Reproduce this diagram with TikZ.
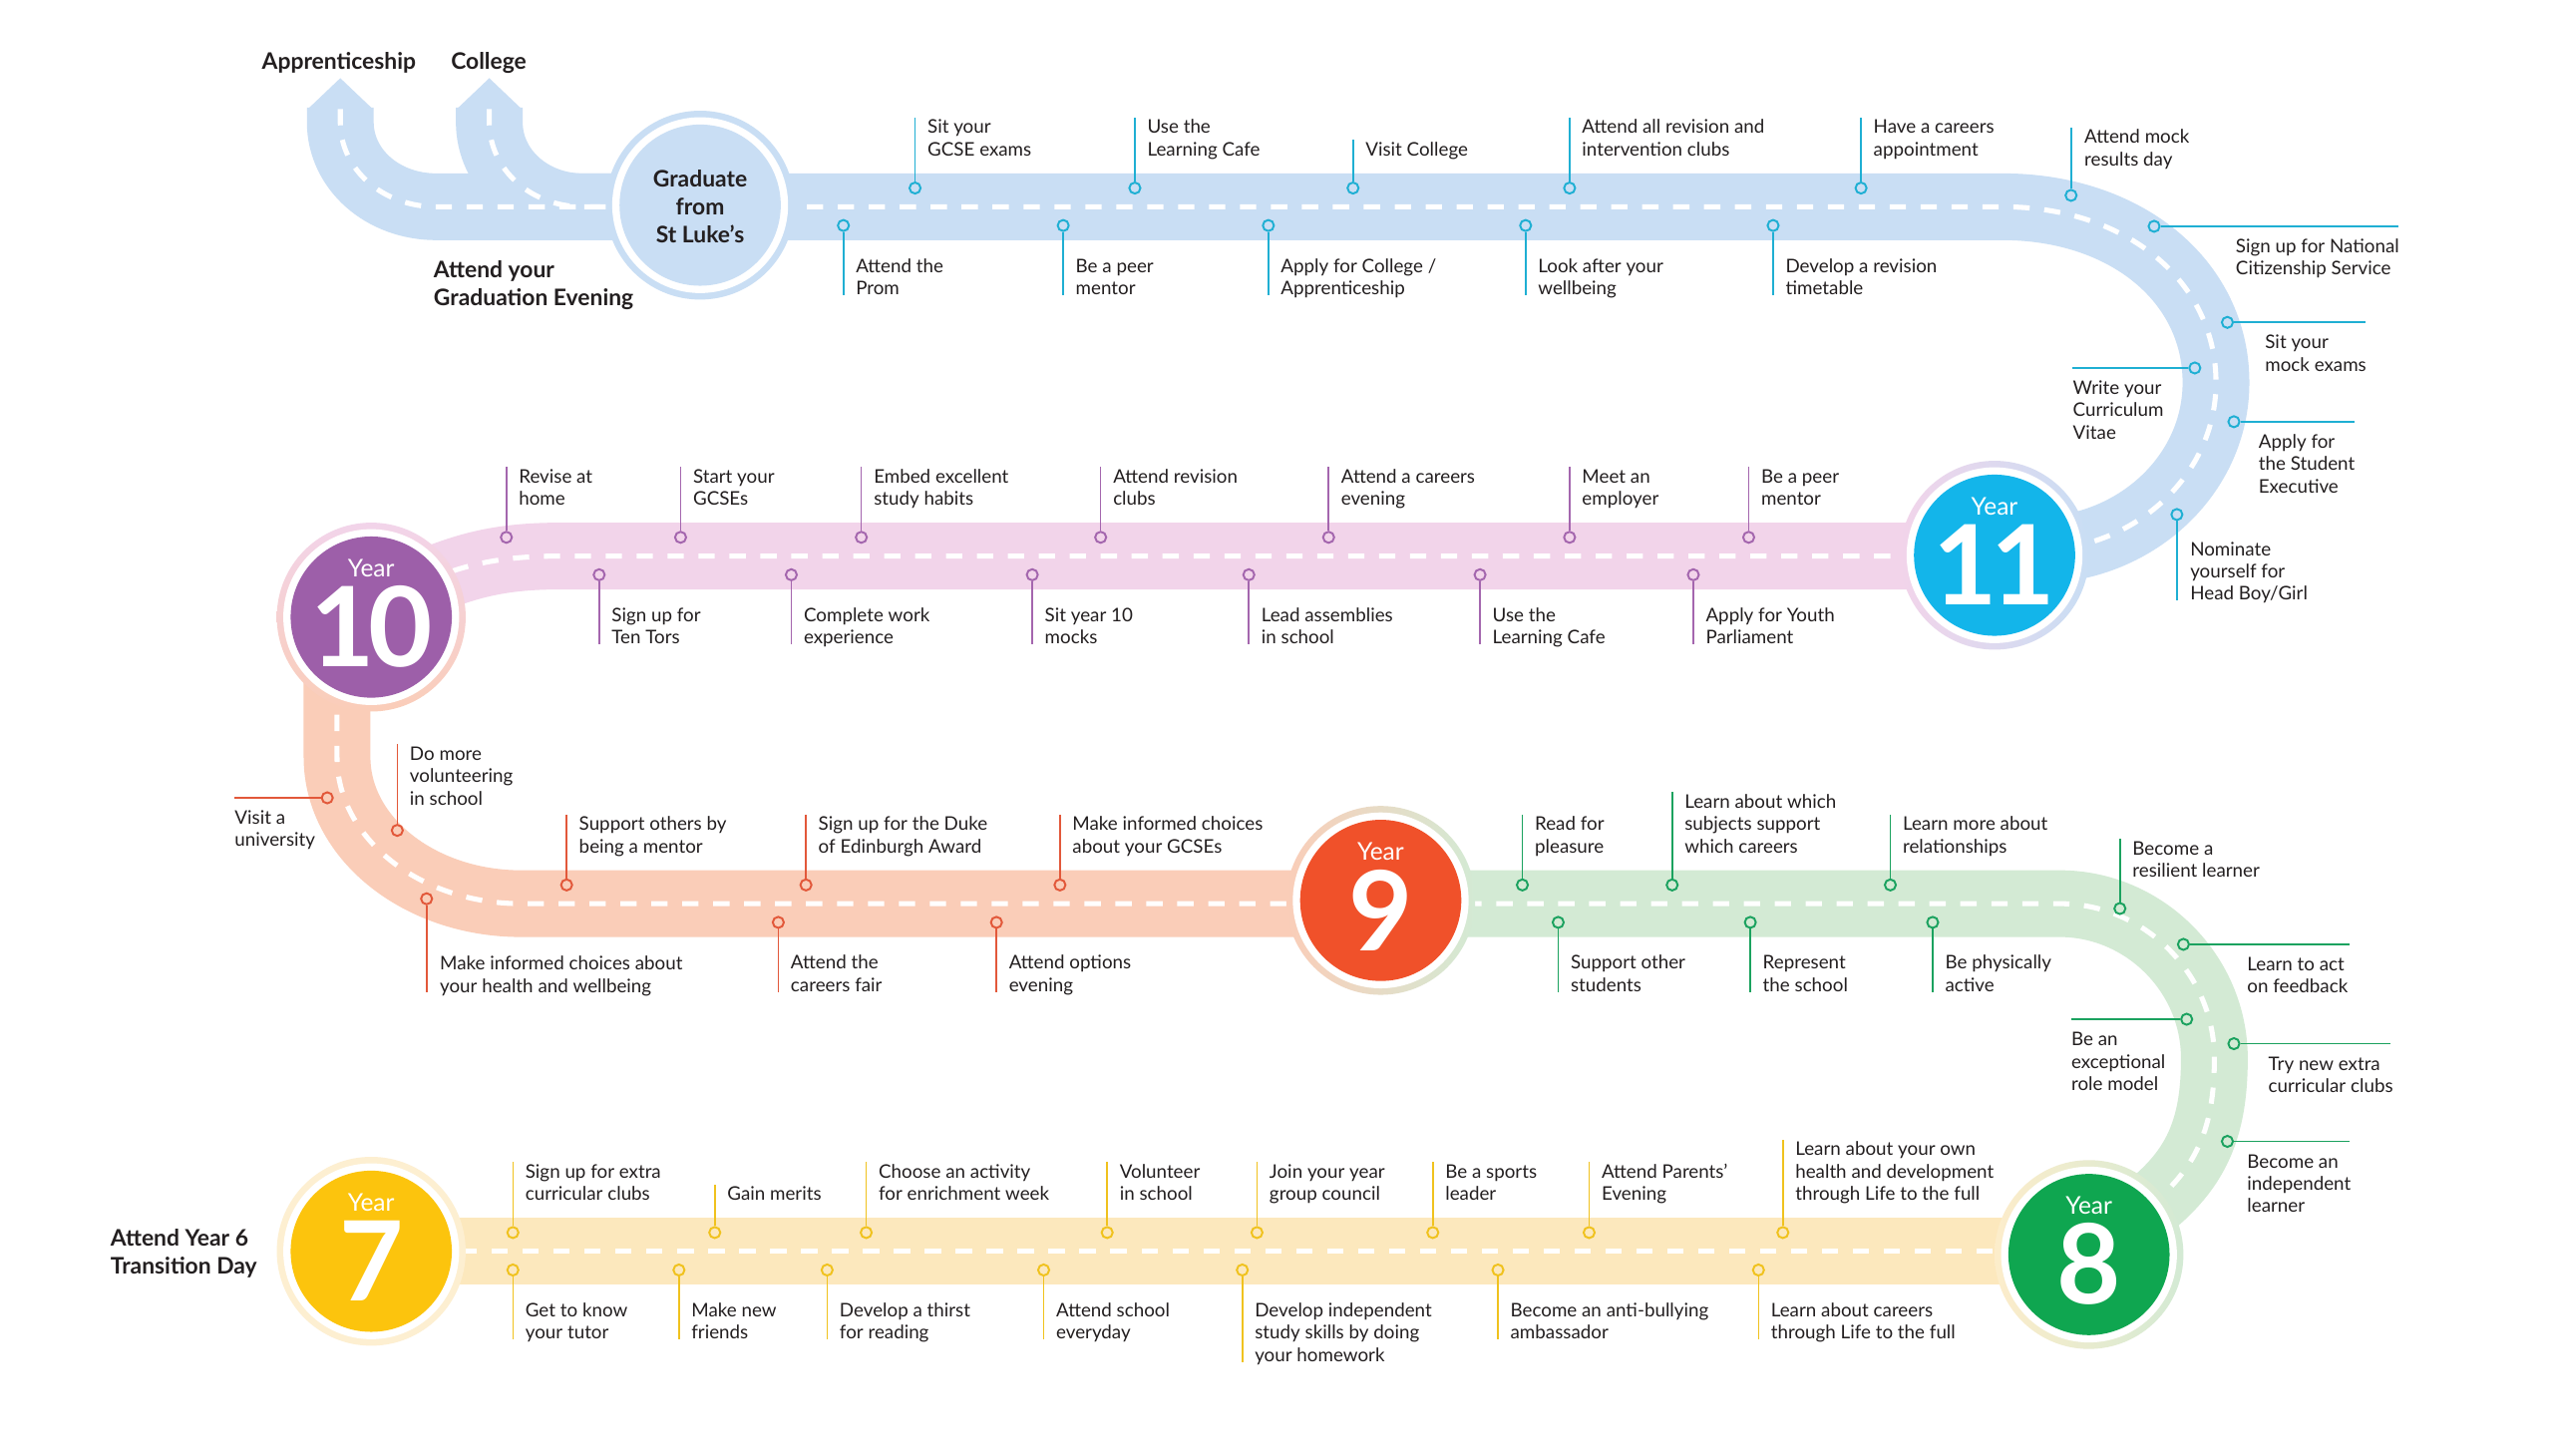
\documentclass[tikz,border=0pt]{standalone}
\usepackage{fontspec}
\setmainfont{Lato}
\definecolor{txt}{HTML}{231F20}
\definecolor{blR}{HTML}{C9DEF4}
\definecolor{blL}{HTML}{1FAFD3}
\definecolor{blC}{HTML}{13B5EA}
\definecolor{puR}{HTML}{F2D4EA}
\definecolor{puL}{HTML}{A466AE}
\definecolor{puC}{HTML}{9D5FA9}
\definecolor{peR}{HTML}{FACDB8}
\definecolor{peL}{HTML}{E2583A}
\definecolor{peC}{HTML}{F0512A}
\definecolor{grR}{HTML}{D3EAD4}
\definecolor{grL}{HTML}{1BA25F}
\definecolor{grC}{HTML}{0FA650}
\definecolor{yeR}{HTML}{FCE8BD}
\definecolor{yeL}{HTML}{F0C21E}
\definecolor{yeC}{HTML}{FCC40D}
\tikzset{
  road/.style={line width=41pt, line cap=butt},
  lane/.style={white, line width=3.1pt, dash pattern=on 10pt off 9pt},
  lbl/.style={font=\fontsize{11.5}{13.7}\selectfont, align=left, inner sep=0pt, text=txt},
  ttl/.style={font=\fontsize{14}{17}\selectfont\bfseries, align=left, inner sep=0pt, text=txt},
  dotn/.style={circle, draw, line width=1.2pt, minimum size=6.8pt, inner sep=0pt},
  lk/.style={line width=0.95pt},
  outring/.style={circle, minimum size=116pt, inner sep=0pt},
  gapw/.style={circle, fill=white, minimum size=108pt, inner sep=0pt},
  core/.style={circle, minimum size=99pt, inner sep=0pt},
  yr/.style={text=white, inner sep=0pt, font=\fontsize{15}{15}\selectfont},
  num/.style={text=white, inner sep=0pt, font=\fontsize{68}{68}\selectfont\bfseries},
}
\newcommand\VUp[7]{%
  \node[dotn,draw=#2] (#1) at (#3,#4) {};
  \node[lbl,anchor=south west] (#1t) at (#5,#6) {\strut#7\strut};
  \draw[lk,#2] (#1) -- (#1 |- #1t.north);}
\newcommand\VDn[7]{%
  \node[dotn,draw=#2] (#1) at (#3,#4) {};
  \node[lbl,anchor=north west] (#1t) at (#5,#6) {\strut#7\strut};
  \draw[lk,#2] (#1) -- ([yshift=4.1pt]#1 |- #1t.south);}
\newcommand\Up[5]{\VUp{#1}{#2}{#3}{#4-11.5}{#3+7.5}{#4-27}{#5}}
\newcommand\Dn[5]{\VDn{#1}{#2}{#3}{#4+11.5}{#3+7.5}{#4+30.5}{#5}}
\newcommand\Rt[7]{%
  \node[dotn,draw=#2] (#1) at (#3,#4) {};
  \coordinate (#1e) at (#5,#4);
  \draw[lk,#2] (#1) -- (#1e);
  \node[lbl,anchor=north west] (#1t) at (#6,#4+6.5) {\strut#7\strut};}
\newcommand\Lt[6]{%
  \node[dotn,draw=#2] (#1) at (#3,#4) {};
  \coordinate (#1e) at (#5,#4);
  \draw[lk,#2] (#1e) -- (#1);
  \node[lbl,anchor=north west] (#1t) at (#5,#4+6.5) {\strut#6\strut};}
\begin{document}
\begin{tikzpicture}[x=1pt,y=-1pt]
\useasboundingbox[fill=white] (0,0) rectangle (1568,894);
% ---------- roads ----------
\draw[road,yeR] (228,768.5) -- (1283,768.5);
\draw[road,grR] (848,555) -- (1265,555) .. controls (1317,555) and (1360,598) .. (1360,650) .. controls (1360,700) and (1345,725) .. (1305,752) -- (1283,770);
\draw[road,peR] (207,400) -- (207,465) .. controls (207,515) and (258,555) .. (320,555) -- (848,555);
\draw[road,puR] (1225,341.5) -- (345,341.5) .. controls (303,341.5) and (280,348) .. (235,370);
\fill[blR] (188.5,67.5) -- (209,48) -- (229.5,67.5) -- cycle;
\fill[blR] (280,67.5) -- (300.5,48) -- (321,67.5) -- cycle;
\draw[road,blR] (300.5,66) -- (300.5,75) .. controls (300.5,104) and (326,127) .. (358,127) -- (400,127);
\draw[road,blR] (209,66) -- (209,75) .. controls (209,104) and (235,127) .. (268,127) -- (1230,127) .. controls (1305,127) and (1361,172) .. (1361,235) .. controls (1361,292) and (1311,338) .. (1250,338) -- (1225,341);
% ---------- lanes ----------
\draw[lane] (283,768.5) -- (1283,768.5);
\draw[lane] (900,555) -- (1265,555) .. controls (1317,555) and (1360,598) .. (1360,650) .. controls (1360,700) and (1345,725) .. (1305,752);
\draw[lane] (207,420) -- (207,465) .. controls (207,515) and (258,555) .. (320,555) -- (848,555);
\draw[lane] (1180,341.5) -- (345,341.5) .. controls (303,341.5) and (280,348) .. (250,362);
\draw[lane] (300.5,67) -- (300.5,75) .. controls (300.5,104) and (326,127) .. (358,127) -- (390,127);
\draw[lane] (209,67) -- (209,75) .. controls (209,104) and (235,127) .. (268,127) -- (1230,127) .. controls (1305,127) and (1361,172) .. (1361,235) .. controls (1361,292) and (1311,338) .. (1250,338);
% ---------- circles ----------
\node[outring, fill=blR] (gdo) at (430,126) {};
\node[gapw] (gdg) at (430,126) {};
\node[core, fill=blR] (gdc) at (430,126) {};
\node[ttl, align=center] (gdt) at (430,127) {Graduate\\from\\St Luke’s};

\node[outring, left color=puR, right color=blR] (y11o) at (1225,341) {};
\node[gapw] (y11g) at (1225,341) {};
\node[core, fill=blC] (y11c) at (1225,341) {};
\node[yr] (y11y) at (1225,311) {Year};
\node[num] (y11n) at (1225,347) {1\kern-4pt1};

\node[outring, top color=puR, bottom color=peR] (y10o) at (228,379) {};
\node[gapw] (y10g) at (228,379) {};
\node[core, fill=puC] (y10c) at (228,379) {};
\node[yr] (y10y) at (228,349) {Year};
\node[num] (y10n) at (228,385) {1\kern-4pt0};

\node[outring, left color=peR, right color=grR] (y9o) at (848,553) {};
\node[gapw] (y9g) at (848,553) {};
\node[core, fill=peC] (y9c) at (848,553) {};
\node[yr] (y9y) at (848,523) {Year};
\node[num] (y9n) at (848,559) {9};

\node[outring, left color=yeR!80, right color=grR] (y8o) at (1283,770.5) {};
\node[gapw] (y8g) at (1283,770.5) {};
\node[core, fill=grC] (y8c) at (1283,770.5) {};
\node[yr] (y8y) at (1283,740.5) {Year};
\node[num] (y8n) at (1283,776.5) {8};

\node[outring, fill=yeR!70] (y7o) at (228,768.5) {};
\node[gapw] (y7g) at (228,768.5) {};
\node[core, fill=yeC] (y7c) at (228,768.5) {};
\node[yr] (y7y) at (228,738.5) {Year};
\node[num] (y7n) at (228,774.5) {7};
% ---------- titles ----------
\node[ttl, anchor=base west] (app) at (160.7,42.5) {Apprenticeship};
\node[ttl, anchor=base west] (col) at (276.8,42.5) {College};
\node[ttl, anchor=north west] (gev) at (266.2,160) {Attend your\\Graduation Evening};
\node[ttl, anchor=north west] (tday) at (67.7,754.6) {Attend Year 6\\Transition Day};
% ---------- blue row ----------
\Up{bsg}{blL}{562}{127}{Sit your\\GCSE exams}
\Up{blc}{blL}{697}{127}{Use the\\Learning Cafe}
\Up{bvc}{blL}{831}{127}{Visit College}
\Up{bar}{blL}{964}{127}{Attend all revision and\\intervention clubs}
\Up{bhc}{blL}{1143}{127}{Have a careers\\appointment}
\Dn{bpr}{blL}{518}{127}{Attend the\\Prom}
\Dn{bpm}{blL}{653}{127}{Be a peer\\mentor}
\Dn{bac}{blL}{779}{127}{Apply for College /\\Apprenticeship}
\Dn{bwb}{blL}{937}{127}{Look after your\\wellbeing}
\Dn{brt}{blL}{1089}{127}{Develop a revision\\timetable}
\VUp{bmr}{blL}{1272}{120}{1280}{106}{Attend mock\\results day}
\Rt{bns}{blL}{1323}{139}{1473}{1373}{Sign up for National\\Citizenship Service}
\Rt{bme}{blL}{1368}{198}{1453}{1391}{Sit your\\mock exams}
\Lt{bcv}{blL}{1348}{226}{1273}{Write your\\Curriculum\\Vitae}
\Rt{bse}{blL}{1372}{259}{1446}{1387}{Apply for\\the Student\\Executive}
\VDn{bhb}{blL}{1337}{316}{1345}{331.5}{Nominate\\yourself for\\Head Boy/Girl}
% ---------- pink row ----------
\Up{prh}{puL}{311}{341.5}{Revise at\\home}
\Up{psg}{puL}{418}{341.5}{Start your\\GCSEs}
\Up{peh}{puL}{529}{341.5}{Embed excellent\\study habits}
\Up{prc}{puL}{676}{341.5}{Attend revision\\clubs}
\Up{pce}{puL}{816}{341.5}{Attend a careers\\evening}
\Up{pme}{puL}{964}{341.5}{Meet an\\employer}
\Up{ppm}{puL}{1074}{341.5}{Be a peer\\mentor}
\Dn{ptt}{puL}{368}{341.5}{Sign up for\\Ten Tors}
\Dn{pwe}{puL}{486}{341.5}{Complete work\\experience}
\Dn{pmk}{puL}{634}{341.5}{Sit year 10\\mocks}
\Dn{pla}{puL}{767}{341.5}{Lead assemblies\\in school}
\Dn{plc}{puL}{909}{341.5}{Use the\\Learning Cafe}
\Dn{pyp}{puL}{1040}{341.5}{Apply for Youth\\Parliament}
% ---------- peach row ----------
\Up{osm}{peL}{348}{555}{Support others by\\being a mentor}
\Up{ode}{peL}{495}{555}{Sign up for the Duke\\of Edinburgh Award}
\Up{ogc}{peL}{651}{555}{Make informed choices\\about your GCSEs}
\Dn{ocf}{peL}{478}{555}{Attend the\\careers fair}
\Dn{ooe}{peL}{612}{555}{Attend options\\evening}
\Lt{ouv}{peL}{201}{490}{144}{Visit a\\university}
\VUp{ovs}{peL}{244}{510}{251.5}{498.6}{Do more\\volunteering\\in school}
\VDn{ohw}{peL}{262}{552}{270}{586}{Make informed choices about\\your health and wellbeing}
% ---------- green row ----------
\Up{grp}{grL}{935}{555}{Read for\\pleasure}
\Up{gsc}{grL}{1027}{555}{Learn about which\\subjects support\\which careers}
\Up{grl}{grL}{1161}{555}{Learn more about\\relationships}
\Dn{gss}{grL}{957}{555}{Support other\\students}
\Dn{grs}{grL}{1075}{555}{Represent\\the school}
\Dn{gpa}{grL}{1187}{555}{Be physically\\active}
\VUp{gbr}{grL}{1302}{558}{1309.6}{543}{Become a\\resilient learner}
\Rt{gfb}{grL}{1341}{580}{1443}{1380}{Learn to act\\on feedback}
\Lt{grm}{grL}{1343}{626}{1272}{Be an\\exceptional\\role model}
\Rt{gcc}{grL}{1372}{641}{1468}{1393}{Try new extra\\curricular clubs}
\Rt{gil}{grL}{1368}{701}{1443}{1380}{Become an\\independent\\learner}
% ---------- yellow row ----------
\Up{ysc}{yeL}{315}{768.5}{Sign up for extra\\curricular clubs}
\Up{ygm}{yeL}{439}{768.5}{Gain merits}
\Up{yew}{yeL}{532}{768.5}{Choose an activity\\for enrichment week}
\Up{yvs}{yeL}{680}{768.5}{Volunteer\\in school}
\Up{ygc}{yeL}{772}{768.5}{Join your year\\group council}
\Up{ysl}{yeL}{880}{768.5}{Be a sports\\leader}
\Up{ype}{yeL}{976}{768.5}{Attend Parents’\\Evening}
\Up{yhd}{yeL}{1095}{768.5}{Learn about your own\\health and development\\through Life to the full}
\Dn{ykt}{yeL}{315}{768.5}{Get to know\\your tutor}
\Dn{ynf}{yeL}{417}{768.5}{Make new\\friends}
\Dn{ytr}{yeL}{508}{768.5}{Develop a thirst\\for reading}
\Dn{yse}{yeL}{641}{768.5}{Attend school\\everyday}
\Dn{yhw}{yeL}{763}{768.5}{Develop independent\\study skills by doing\\your homework}
\Dn{yab}{yeL}{920}{768.5}{Become an anti-bullying\\ambassador}
\Dn{ylc}{yeL}{1080}{768.5}{Learn about careers\\through Life to the full}
\end{tikzpicture}
\end{document}
